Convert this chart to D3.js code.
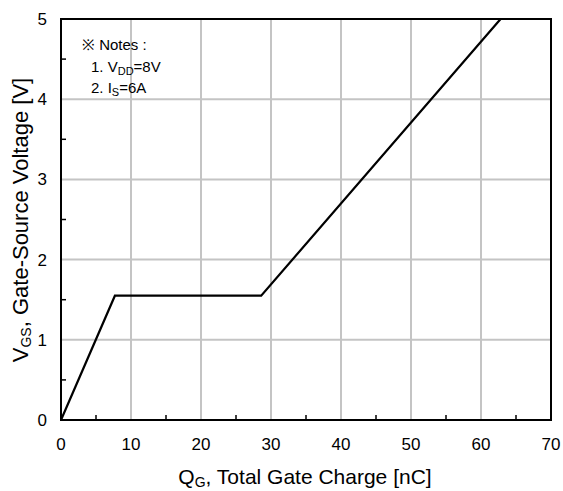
<!DOCTYPE html>
<html>
<head>
<meta charset="utf-8">
<script src="https://cdn.jsdelivr.net/npm/d3@7"></script>
<style>
  body { margin: 0; background: #fff; }
  text { font-family: "Liberation Sans", Arial, sans-serif; fill: #000; }
</style>
</head>
<body>
<div id="chart"></div>
<script>
  var width = 563,
     height = 491;

  // gate charge curve: QG [nC] vs VGS [V]
  var qg = [0, 7.7, 28.6, 62.8];
  var vgs = [0, 1.55, 1.55, 5];
  var xTicks = [0, 10, 20, 30, 40, 50, 60, 70];
  var yTicks = [0, 1, 2, 3, 4, 5];

  var margin = {left: 61, right: 12, top: 19, bottom: 71};

  var svg = d3.select("#chart")
  .append("svg")
  .attr("width", width)
  .attr("height", height);

  var x = d3.scaleLinear().domain([0, 70]).range([margin.left, width - margin.right]);
  var y = d3.scaleLinear().domain([0, 5]).range([height - margin.bottom, margin.top]);

  //grid lines
  svg.selectAll(".gx")
  .data(xTicks.slice(1, -1))
  .enter().append("line")
  .attr("x1", function(d) { return x(d); })
  .attr("x2", function(d) { return x(d); })
  .attr("y1", y(0)).attr("y2", y(5))
  .attr("stroke", "#c4c4c4").attr("stroke-width", 2);

  svg.selectAll(".gy")
  .data(yTicks.slice(1, -1))
  .enter().append("line")
  .attr("y1", function(d) { return y(d); })
  .attr("y2", function(d) { return y(d); })
  .attr("x1", x(0)).attr("x2", x(70))
  .attr("stroke", "#c4c4c4").attr("stroke-width", 2);

  //minor ticks, pointing inward
  var xMinor = d3.range(5, 70, 10);
  var yMinor = d3.range(0.5, 5, 1);
  svg.selectAll(".mx")
  .data(xMinor)
  .enter().append("line")
  .attr("x1", function(d) { return x(d); })
  .attr("x2", function(d) { return x(d); })
  .attr("y1", y(0)).attr("y2", y(0) - 5)
  .attr("stroke", "#000").attr("stroke-width", 1.5);
  svg.selectAll(".my")
  .data(yMinor)
  .enter().append("line")
  .attr("y1", function(d) { return y(d); })
  .attr("y2", function(d) { return y(d); })
  .attr("x1", x(0)).attr("x2", x(0) + 5)
  .attr("stroke", "#000").attr("stroke-width", 1.5);

  //frame
  svg.append("rect")
  .attr("x", x(0)).attr("y", y(5))
  .attr("width", x(70) - x(0)).attr("height", y(0) - y(5))
  .attr("fill", "none").attr("stroke", "#000").attr("stroke-width", 2);

  //curve
  var line = d3.line()
  .x(function(d, i) { return x(qg[i]); })
  .y(function(d, i) { return y(vgs[i]); });

  svg.append("path")
  .datum(qg)
  .attr("d", line)
  .attr("fill", "none")
  .attr("stroke", "#000")
  .attr("stroke-width", 2.2);

  //tick labels
  svg.selectAll(".xl")
  .data(xTicks)
  .enter().append("text")
  .attr("x", function(d) { return x(d); })
  .attr("y", y(0) + 30)
  .attr("text-anchor", "middle")
  .attr("font-size", 17)
  .text(function(d) { return d; });

  svg.selectAll(".yl")
  .data(yTicks)
  .enter().append("text")
  .attr("x", x(0) - 14)
  .attr("y", function(d) { return y(d) + 6; })
  .attr("text-anchor", "end")
  .attr("font-size", 17)
  .text(function(d) { return d; });

  //axis titles
  var xt = svg.append("text")
  .attr("x", 305).attr("y", 484)
  .attr("text-anchor", "middle")
  .attr("font-size", 21);
  xt.append("tspan").text("Q");
  xt.append("tspan").attr("font-size", 14).attr("dy", 3).text("G");
  xt.append("tspan").attr("dy", -3).text(", Total Gate Charge [nC]");

  var yt = svg.append("text")
  .attr("transform", "translate(28," + 220 + ") rotate(-90)")
  .attr("text-anchor", "middle")
  .attr("font-size", 22);
  yt.append("tspan").text("V");
  yt.append("tspan").attr("font-size", 14).attr("dy", 3).text("GS");
  yt.append("tspan").attr("dy", -3).text(",  Gate-Source Voltage [V]");

  //notes
  var notes = svg.append("g").attr("font-size", 15);
  notes.append("text").attr("x", 82).attr("y", 50).text("※ Notes :");
  var n1 = notes.append("text").attr("x", 91).attr("y", 72);
  n1.append("tspan").text("1. V");
  n1.append("tspan").attr("font-size", 11).attr("dy", 3).text("DD");
  n1.append("tspan").attr("dy", -3).text("=8V");
  var n2 = notes.append("text").attr("x", 91).attr("y", 93);
  n2.append("tspan").text("2. I");
  n2.append("tspan").attr("font-size", 11).attr("dy", 3).text("S");
  n2.append("tspan").attr("dy", -3).text("=6A");
</script>
</body>
</html>
